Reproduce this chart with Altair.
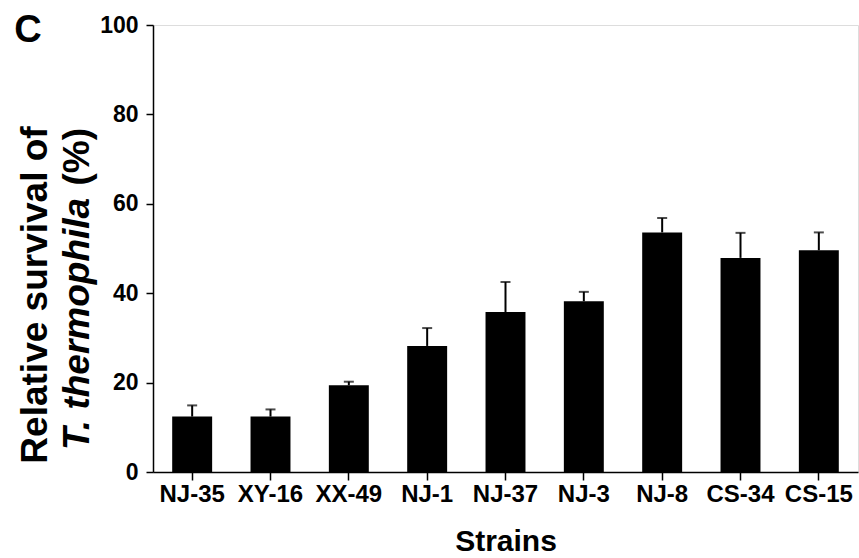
import altair as alt
import pandas as pd

strains = ["NJ-35", "XY-16", "XX-49", "NJ-1", "NJ-37", "NJ-3", "NJ-8", "CS-34", "CS-15"]
survival = [12.4, 12.4, 19.4, 28.2, 35.8, 38.2, 53.6, 47.9, 49.6]
error = [2.5, 1.6, 0.8, 4.0, 6.7, 2.1, 3.2, 5.6, 4.0]
y_ticks = [0, 20, 40, 60, 80, 100]
panel_label = ["C"]
y_title_line1 = ["Relative survival of"]
y_title_italic = ["T. thermophila"]
y_title_unit = ["(%)"]
x_title = "Strains"

df = pd.DataFrame({"Strain": strains, "Survival": survival, "Err": error})
df["Upper"] = df["Survival"] + df["Err"]

FONT = "Liberation Sans"
W, H = 705, 447

xenc = alt.X(
    "Strain:N",
    sort=strains,
    scale=alt.Scale(paddingInner=0.49, paddingOuter=0.245),
    axis=alt.Axis(
        title=x_title, labelAngle=0, labelFont=FONT, labelFontSize=24,
        labelFontWeight="bold", labelColor="black", labelPadding=2,
        titleFont=FONT, titleFontSize=30, titleFontWeight="bold",
        titleColor="black", titlePadding=20,
        tickSize=8, tickColor="black", tickWidth=1.5,
        domainColor="black", domainWidth=1.5, grid=False,
    ),
)
yscale = alt.Scale(domain=[0, 100], nice=False)
yenc = alt.Y(
    "Survival:Q", scale=yscale, title="",
    axis=alt.Axis(
        values=y_ticks, labelFont=FONT, labelFontSize=23, labelFontWeight="bold",
        labelColor="black", labelPadding=8, tickSize=7, tickColor="black",
        tickWidth=1.5, domainColor="black", domainWidth=1.5, grid=False,
    ),
)

base = alt.Chart(df)
bars = base.mark_bar(color="black").encode(x=xenc, y=yenc)
rules = base.mark_rule(color="black", strokeWidth=2).encode(
    x=alt.X("Strain:N", sort=strains), y=alt.Y("Survival:Q", scale=yscale), y2="Upper:Q"
)
caps = base.mark_tick(color="black", thickness=2, size=10).encode(
    x=alt.X("Strain:N", sort=strains), y=alt.Y("Upper:Q", scale=yscale)
)

def txt(lst, **kw):
    return alt.Chart(pd.DataFrame({"t": lst})).mark_text(
        font=FONT, fontWeight="bold", color="black", **kw
    )

c_label = txt(panel_label, fontSize=38, align="center", baseline="alphabetic").encode(
    x=alt.value(-125), y=alt.value(17), text="t:N")
line1 = txt(y_title_line1, fontSize=37, angle=270, align="center", baseline="middle").encode(
    x=alt.value(-117), y=alt.value(270), text="t:N")
line2a = txt(y_title_italic, fontSize=37, angle=270, align="left", baseline="middle",
             fontStyle="italic").encode(x=alt.value(-75), y=alt.value(425), text="t:N")
line2b = txt(y_title_unit, fontSize=37, angle=270, align="right", baseline="middle").encode(
    x=alt.value(-75), y=alt.value(103), text="t:N")

chart = alt.layer(bars, rules, caps, c_label, line1, line2a, line2b).properties(
    width=W, height=H,
    padding={"left": 153, "top": 25, "right": 1, "bottom": 86},
    autosize=alt.AutoSizeParams(type="none"),
).configure_view(stroke="transparent").configure(background="white")

chart.save("out.html", embed_options={"renderer": "svg", "actions": False})
